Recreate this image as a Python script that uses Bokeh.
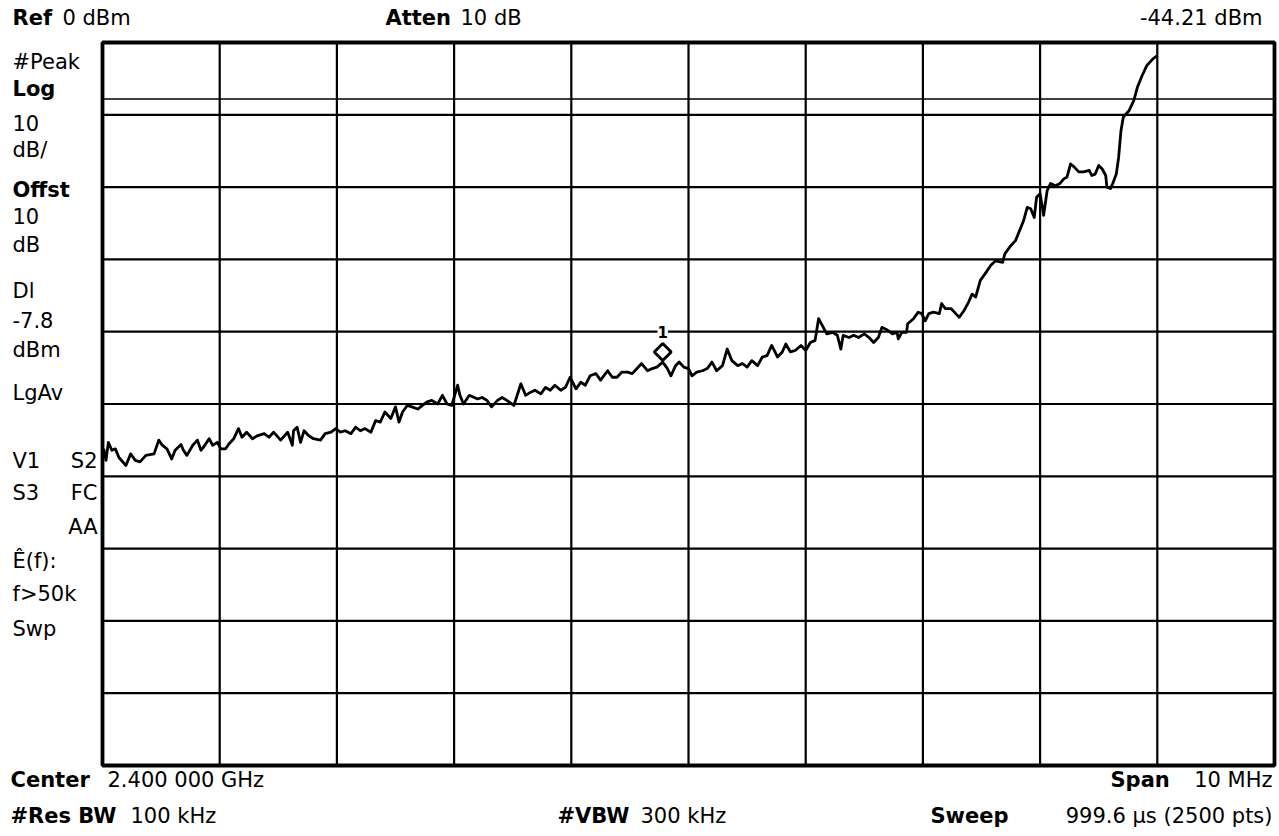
from bokeh.plotting import figure
from bokeh.models import Label, Range1d
from bokeh.embed import file_html
from bokeh.resources import INLINE

# Frequency offset from center (MHz) and trace level (dBm)
freq_mhz = [
    -4.99, -4.97, -4.95, -4.92, -4.89, -4.86, -4.80, -4.76, -4.72, -4.68,
    -4.63, -4.56, -4.52, -4.49, -4.45, -4.41, -4.38, -4.33, -4.31, -4.28,
    -4.23, -4.19, -4.16, -4.14, -4.09, -4.06, -4.02, -3.99, -3.95, -3.92,
    -3.88, -3.84, -3.81, -3.77, -3.72, -3.68, -3.62, -3.58, -3.54, -3.48,
    -3.42, -3.38, -3.37, -3.34, -3.31, -3.28, -3.24, -3.20, -3.14, -3.10,
    -3.05, -3.01, -2.97, -2.93, -2.88, -2.84, -2.80, -2.76, -2.71, -2.67,
    -2.63, -2.59, -2.54, -2.50, -2.47, -2.44, -2.40, -2.36, -2.31, -2.27,
    -2.23, -2.19, -2.14, -2.10, -2.06, -2.02, -1.97, -1.95, -1.92, -1.87,
    -1.80, -1.76, -1.72, -1.68, -1.63, -1.59, -1.55, -1.49, -1.43, -1.39,
    -1.35, -1.31, -1.26, -1.22, -1.18, -1.14, -1.09, -1.05, -1.01, -0.96,
    -0.92, -0.88, -0.84, -0.79, -0.75, -0.69, -0.65, -0.61, -0.57, -0.52,
    -0.48, -0.44, -0.40, -0.35, -0.31, -0.27, -0.22, -0.18, -0.15, -0.11,
    -0.08, -0.04, 0.00, 0.03, 0.07, 0.12, 0.16, 0.20, 0.24, 0.29,
    0.33, 0.37, 0.42, 0.46, 0.50, 0.54, 0.59, 0.63, 0.67, 0.71,
    0.76, 0.80, 0.83, 0.87, 0.91, 0.96, 1.00, 1.04, 1.08, 1.11,
    1.14, 1.18, 1.23, 1.27, 1.30, 1.32, 1.37, 1.41, 1.45, 1.50,
    1.54, 1.58, 1.62, 1.65, 1.70, 1.74, 1.78, 1.79, 1.82, 1.86,
    1.87, 1.92, 1.96, 1.99, 2.02, 2.05, 2.09, 2.14, 2.16, 2.19,
    2.24, 2.28, 2.31, 2.35, 2.39, 2.42, 2.45, 2.49, 2.53, 2.58,
    2.62, 2.68, 2.70, 2.75, 2.79, 2.82, 2.86, 2.89, 2.92, 2.95,
    2.97, 3.00, 3.03, 3.06, 3.09, 3.13, 3.17, 3.20, 3.23, 3.26,
    3.29, 3.33, 3.37, 3.42, 3.44, 3.47, 3.50, 3.53, 3.56, 3.57,
    3.60, 3.62, 3.65, 3.67, 3.69, 3.71, 3.76, 3.80, 3.83, 3.87,
    3.91, 3.96, 4.00,
]
level_dbm = [
    -56.2, -57.8, -55.3, -56.4, -56.2, -57.4, -58.5, -56.9, -57.8, -58.0,
    -57.1, -56.9, -55.0, -55.7, -56.2, -57.6, -56.4, -55.6, -56.4, -57.1,
    -55.7, -55.0, -56.4, -56.0, -54.8, -55.7, -55.3, -56.2, -56.2, -55.5,
    -54.8, -53.4, -54.6, -53.9, -54.8, -54.4, -54.1, -54.6, -53.9, -55.0,
    -53.9, -55.7, -53.7, -53.2, -55.3, -53.7, -54.4, -54.8, -55.0, -54.1,
    -53.9, -53.4, -53.9, -53.7, -54.1, -53.2, -53.7, -53.4, -53.9, -52.3,
    -52.5, -51.1, -52.0, -50.4, -52.5, -51.1, -50.2, -50.4, -50.7, -50.2,
    -49.7, -49.5, -50.0, -48.8, -50.0, -50.2, -47.4, -48.8, -50.0, -48.8,
    -49.3, -49.1, -49.5, -50.4, -49.5, -49.1, -49.5, -50.2, -47.2, -48.8,
    -48.4, -48.1, -48.6, -47.7, -48.1, -47.4, -48.1, -47.7, -46.3, -47.9,
    -47.0, -47.4, -46.1, -45.8, -46.7, -45.4, -46.3, -46.3, -45.6, -45.6,
    -45.8, -45.1, -44.4, -45.4, -45.1, -44.9, -44.2, -45.1, -46.1, -44.7,
    -44.2, -44.9, -45.1, -46.1, -45.6, -45.4, -45.1, -44.2, -45.4, -44.7,
    -42.4, -44.0, -44.7, -44.4, -44.9, -44.0, -44.7, -43.5, -43.3, -41.9,
    -43.5, -42.8, -41.7, -42.8, -42.6, -41.9, -42.6, -41.5, -41.2, -38.2,
    -39.1, -40.3, -40.1, -40.5, -42.4, -40.5, -40.8, -40.5, -40.8, -40.3,
    -40.8, -41.5, -40.8, -39.4, -39.8, -40.3, -40.1, -41.0, -40.1, -40.1,
    -38.9, -38.2, -37.3, -37.5, -38.5, -37.5, -37.3, -37.5, -36.1, -36.8,
    -36.8, -37.5, -38.0, -37.1, -35.9, -34.8, -35.2, -32.9, -32.0, -30.8,
    -30.2, -30.4, -29.2, -28.1, -27.4, -26.2, -24.6, -22.8, -23.0, -24.2,
    -21.4, -20.9, -23.9, -20.5, -19.5, -19.8, -19.5, -18.9, -18.6, -16.8,
    -17.2, -17.9, -17.9, -17.7, -18.4, -18.2, -17.0, -17.5, -18.4, -20.0,
    -20.2, -19.5, -18.2, -15.9, -12.2, -10.3, -9.4, -8.0, -6.2, -4.6,
    -3.2, -2.3, -1.8,
]

# Instrument settings
ref_level_dbm = 0
db_per_div = 10
n_div = 10
span_mhz = 10
display_line_dbm = -7.8
marker_freq_mhz = -0.22
marker_level_dbm = -44.21

x_ticks = [-4, -3, -2, -1, 0, 1, 2, 3, 4]
y_ticks = [-90, -80, -70, -60, -50, -40, -30, -20, -10]

FONT = "DejaVu Sans"
FS = 21
W, H = 1277, 830
# graticule placement on the canvas (pixels)
GL, GT, GR, GB = 102, 42, 1274, 765

fx0, fx1 = -span_mhz / 2, span_mhz / 2
fy0, fy1 = ref_level_dbm - db_per_div * n_div, ref_level_dbm
sx = (GR - GL) / (fx1 - fx0)
sy = (GB - GT) / (fy1 - fy0)

x_start = fx0 - GL / sx
x_end = fx1 + (W - GR) / sx
y_end = fy1 + GT / sy
y_start = fy0 - (H - GB) / sy

p = figure(width=W, height=H, output_backend="svg", toolbar_location=None,
           x_range=Range1d(x_start, x_end), y_range=Range1d(y_start, y_end),
           x_axis_type=None, y_axis_type=None,
           min_border=0, min_border_left=0, min_border_right=0,
           min_border_top=0, min_border_bottom=0)
p.outline_line_color = None
p.background_fill_color = "white"
p.border_fill_color = "white"

# graticule
p.segment(x0=x_ticks, y0=[fy0] * len(x_ticks), x1=x_ticks, y1=[fy1] * len(x_ticks),
          line_color="black", line_width=2.2)
p.segment(x0=[fx0] * len(y_ticks), y0=y_ticks, x1=[fx1] * len(y_ticks), y1=y_ticks,
          line_color="black", line_width=2.2)
p.segment(x0=[fx0], y0=[display_line_dbm], x1=[fx1], y1=[display_line_dbm],
          line_color="black", line_width=1.5)
p.quad(left=[fx0], right=[fx1], bottom=[fy0], top=[fy1], fill_color=None,
       line_color="black", line_width=3.8)

# trace
p.line(freq_mhz, level_dbm, line_color="black", line_width=2.8, line_join="round")

# marker symbol drawn just above the trace point, as the analyzer does
p.scatter([marker_freq_mhz], [marker_level_dbm + 1.4], marker="square", angle=0.7854,
          size=12, fill_color="white", line_color="black", line_width=3)
p.add_layout(Label(x=marker_freq_mhz, y=-40, text="1", text_align="center",
                   text_baseline="middle", text_font=FONT, text_font_size="15px",
                   text_font_style="bold", background_fill_color="white",
                   text_color="black"))


def px2data(xp, yp):
    return (x_start + xp / sx, y_end - yp / sy)


def lab(text, xp, yp, align="left", bold=False, size=FS):
    x, y = px2data(xp, yp)
    p.add_layout(Label(x=x, y=y, text=text, text_align=align, text_baseline="middle",
                       text_font=FONT, text_font_size=f"{size}px",
                       text_font_style="bold" if bold else "normal",
                       text_color="black"))


# top line
lab("Ref", 12, 17, bold=True)
lab("0 dBm", 62, 17)
lab("Atten", 385, 17, bold=True)
lab("10 dB", 460, 17)
lab("-44.21 dBm", 1262, 17, align="right")

# left column
lab("#Peak", 12, 61)
lab("Log", 12, 88, bold=True)
lab("10", 12, 122)
lab("dB/", 12, 149)
lab("Offst", 12, 189, bold=True)
lab("10", 12, 215)
lab("dB", 12, 244)
lab("Dl", 12, 290)
lab("-7.8", 12, 319)
lab("dBm", 12, 349)
lab("LgAv", 12, 392)
lab("V1", 12, 460)
lab("S2", 97, 460, align="right")
lab("S3", 12, 492)
lab("FC", 97, 492, align="right")
lab("AA", 97, 526, align="right")
lab("Ê(f):", 12, 560)
lab("f>50k", 12, 593)
lab("Swp", 12, 628)

# bottom lines
lab("Center", 10, 779, bold=True)
lab("2.400 000 GHz", 107, 779)
lab("Span", 1110, 779, bold=True)
lab("10 MHz", 1272, 779, align="right")
lab("#Res BW", 10, 815, bold=True)
lab("100 kHz", 130, 815)
lab("#VBW", 557, 815, bold=True)
lab("300 kHz", 640, 815)
lab("Sweep", 930, 815, bold=True)
lab("999.6 μs (2500 pts)", 1272, 815, align="right")

open("out.html", "w").write(file_html(p, INLINE))
